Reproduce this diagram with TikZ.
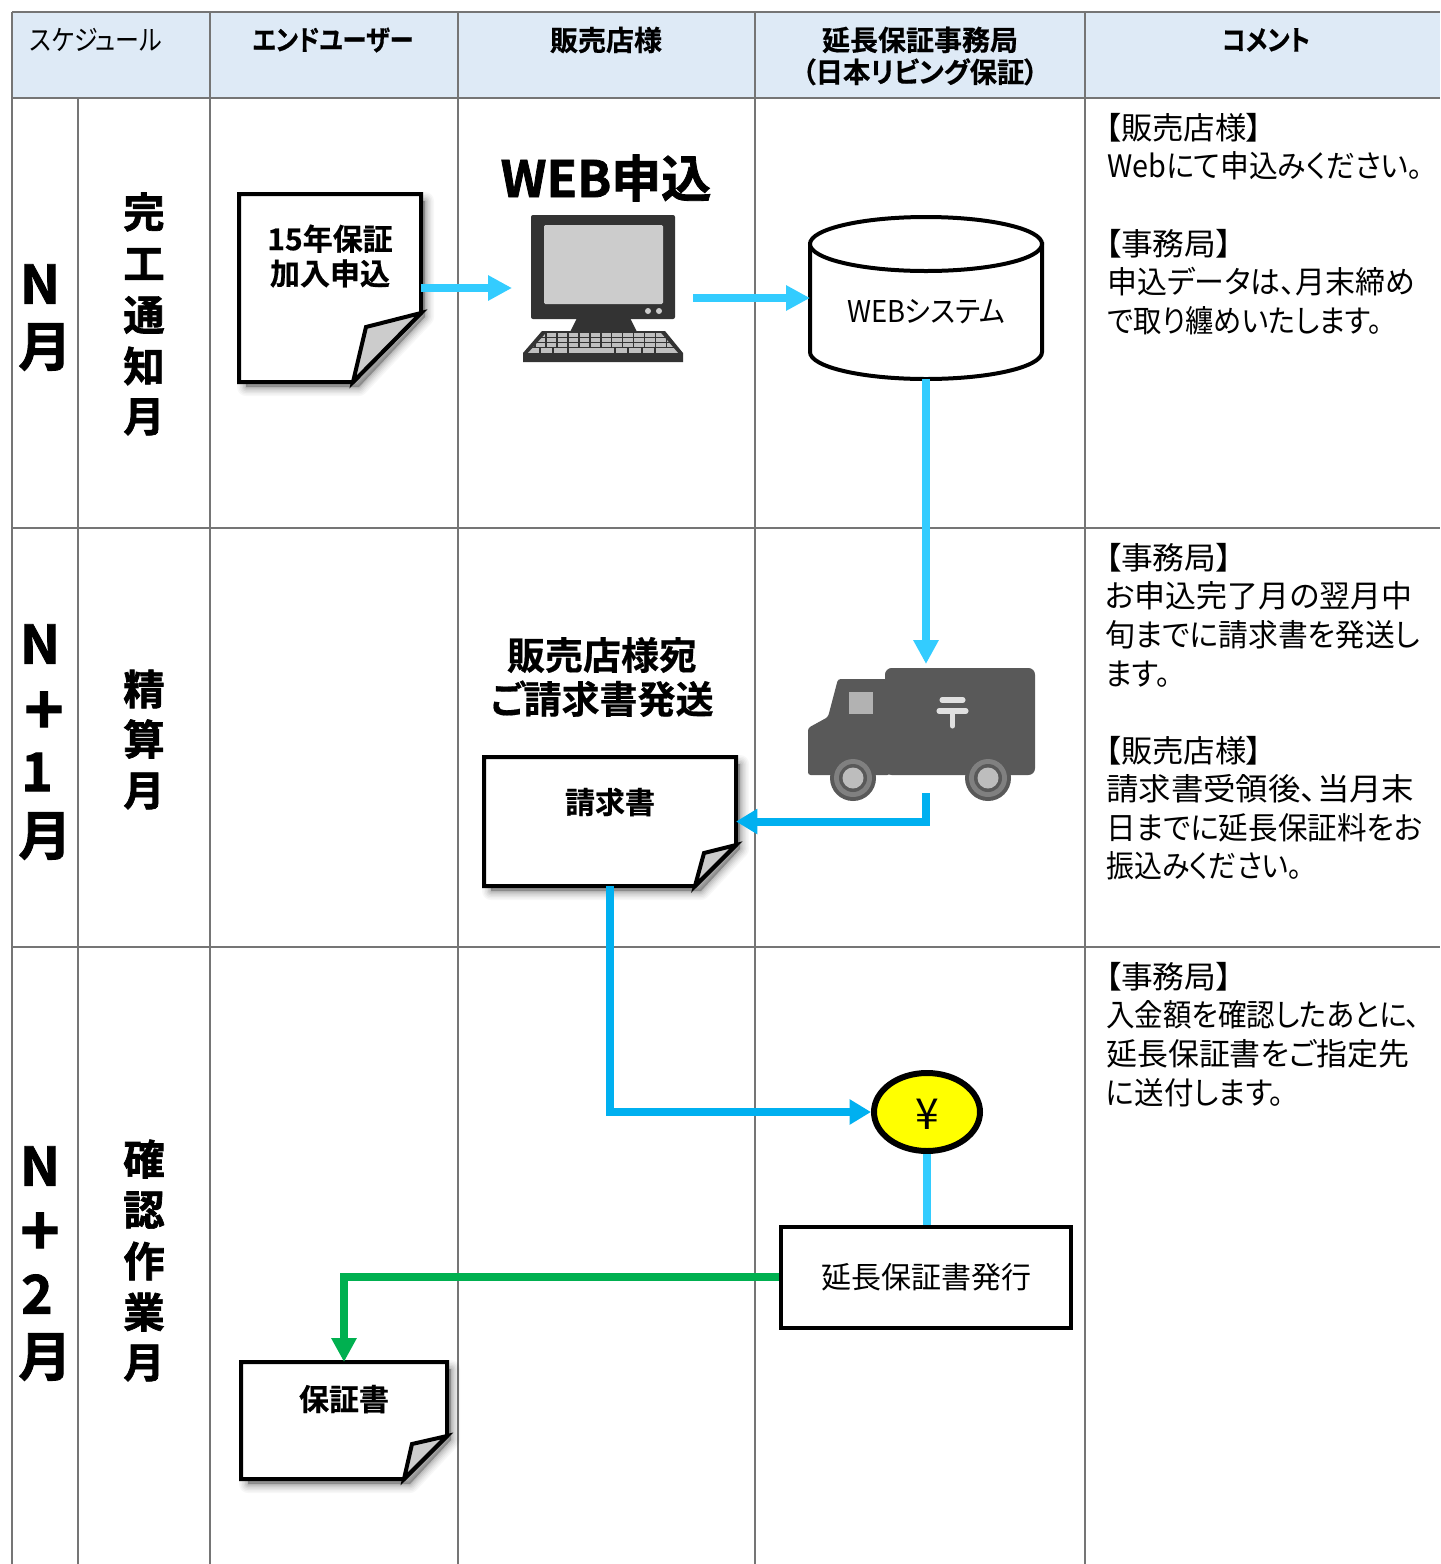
\documentclass[tikz,border=0pt]{standalone}
\usepackage{fontspec}
\usepackage{graphicx}
\setmainfont{Noto Sans CJK JP}[RawFeature=+palt,BoldFont={Noto Sans CJK JP Bold},BoldFeatures={FakeBold=0.5}]
\newfontfamily\heavyf{Noto Sans CJK JP Bold}[RawFeature=+palt,FakeBold=1.6]
\usetikzlibrary{arrows.meta,calc,shapes.geometric}
\definecolor{hdr}{HTML}{DEEAF6}
\definecolor{gridc}{HTML}{757575}
\definecolor{flow}{HTML}{33CCFF}
\definecolor{flowb}{HTML}{00B0F0}
\definecolor{flowg}{HTML}{00B050}
\definecolor{pcdark}{HTML}{333333}
\definecolor{truckc}{HTML}{595959}
\definecolor{yenfill}{HTML}{FFFF00}
\newcommand{\fl}[2]{\resizebox{\dimexpr#1pt*3/4\relax}{\height}{#2}}
\tikzset{
 gridline/.style={draw=gridc,line width=0.8pt},
 headcell/.style={fill=hdr,draw=none},
 t/.style={inner sep=0pt,align=center},
 headt/.style={t,font=\fontsize{21}{24}\selectfont\bfseries},
 monthbig/.style={t,font=\fontsize{40}{44}\selectfont\heavyf},
 monthtxt/.style={t,font=\fontsize{31}{34}\selectfont\heavyf},
 comment/.style={inner sep=0pt,anchor=north west,align=left,font=\fontsize{23.2}{28.9}\selectfont},
 doct/.style={t,font=\fontsize{22.5}{26}\selectfont\bfseries},
 bigt/.style={t,font=\fontsize{28.5}{33}\selectfont\bfseries},
 normt/.style={t,font=\fontsize{22.5}{26}\selectfont},
 area/.style={inner sep=0pt,outer sep=0pt,draw=none},
 docline/.style={draw=black,line join=miter,line width=3pt},
 conn/.style={draw=flow,line width=6pt,-{Triangle[length=18pt,width=18pt]}},
 connb/.style={draw=flowb,line width=6pt,line join=miter,-{Triangle[length=16pt,width=18pt]}},
 conng/.style={draw=flowg,line width=6pt,line join=miter,-{Triangle[length=18pt,width=18pt]}},
}
% name, x1, y1, x2, y2, fold start on right edge (y), fold bottom x, inner fold x,y
\newcommand{\docshape}[9]{%
 \node[area,minimum width={(#4-#2)*0.75pt},minimum height={(#5-#3)*0.75pt}] (#1) at ({(#2+#4)/2},{(#3+#5)/2}) {};
 \foreach \s/\o in {18/.03,15/.03,12/.04,9/.05,6/.06,3/.07}{
  \fill[black,opacity=\o,line join=round,line width=\s*0.75pt,draw=black]
    ({#2+7},{#3+7}) -- ({#4+4},{#3+7}) -- ({#4+4},{#6+4}) -- ({#7+6},{#5+5}) -- ({#2+7},{#5+5}) -- cycle;}
 \fill[white] (#2,#3) -- (#4,#3) -- (#4,#6) -- (#7,#5) -- (#2,#5) -- cycle;
 \draw[docline] (#2,#3) -- (#4,#3) -- (#4,#6) -- (#7,#5) -- (#2,#5) -- cycle;
 \draw[docline,fill=black!20,miter limit=4] (#7,#5) -- (#8,#9) -- (#4,#6) -- cycle;
}
\begin{document}
\begin{tikzpicture}[x=0.75pt,y=-0.75pt]
\useasboundingbox (0,0) rectangle (1440,1564);
\fill[white] (0,0) rectangle (1440,1564);
% header band and grid
\fill[headcell] (12,12) rectangle (1440,98);
\foreach \x in {210,458,755,1085}{\draw[gridline] (\x,12) -- (\x,1564);}
\draw[gridline] (12,12) -- (12,1564);
\draw[gridline] (78,98) -- (78,1564);
\foreach \y in {12,98,528,947}{\draw[gridline] (12,\y) -- (1440,\y);}
% headers
\node[t,font=\fontsize{21}{24}\selectfont] (hSched) at (96,40) {\fl{132}{スケジュール}};
\node[headt] (hUser) at (333,40) {\fl{161}{エンドユーザー}};
\node[headt] (hShop) at (606,40) {販売店様};
\node[headt] (hOffice) at (920,56) {延長保証事務局\\\fl{236}{（日本リビング保証）}};
\node[headt] (hComment) at (1266,40) {\fl{88}{コメント}};
% month column
\node[monthbig] (m1a) at (40,284) {N};
\node[monthbig] (m1b) at (45,347) {月};
\node[monthbig] (m2a) at (40,644) {N};
\node[monthbig,font=\fontsize{50}{54}\selectfont\heavyf] (m2b) at (44,713) {+};
\node[monthbig] (m2c) at (37,772) {1};
\node[monthbig] (m2d) at (45,836) {月};
\node[monthbig] (m3a) at (40,1166) {N};
\node[monthbig,font=\fontsize{50}{54}\selectfont\heavyf] (m3b) at (40,1234) {+};
\node[monthbig] (m3c) at (37,1294) {2};
\node[monthbig] (m3d) at (45,1357) {月};
% phase column
\foreach \n/\c/\y in {a/完/212,b/工/264,c/通/315,d/知/366,e/月/417,
 f/精/689,g/算/739,h/月/791,
 i/確/1159,j/認/1210,k/作/1261,l/業/1312,m/月/1363}{
 \node[monthtxt] (ph\n) at (144,\y) {\c};}
% comments
\node[comment] (c1) at (1105,113) {\fl{157}{【販売店様】}\\\hspace{1.5pt}\fl{315}{Webにて申込みください。}\\[28.9pt]\fl{127}{【事務局】}\\\hspace{1.5pt}\fl{308}{申込データは、月末締め}\\\hspace{1.5pt}\fl{275}{で取り纏めいたします。}};
\node[comment] (c2) at (1105,543) {\fl{127}{【事務局】}\\\fl{307}{お申込完了月の翌月中}\\\fl{315}{旬までに請求書を発送し}\\\fl{65}{ます。}\\[28.9pt]\fl{157}{【販売店様】}\\\hspace{0.75pt}\fl{308}{請求書受領後、当月末}\\\hspace{0.75pt}\fl{316}{日までに延長保証料をお}\\\hspace{0.75pt}\fl{196}{振込みください。}};
\node[comment] (c3) at (1105,962) {\fl{127}{【事務局】}\\\hspace{0.75pt}\fl{314}{入金額を確認したあとに、}\\\hspace{0.75pt}\fl{303}{延長保証書をご指定先}\\\hspace{0.75pt}\fl{178}{に送付します。}};
% documents
\docshape{doc1}{239}{194}{421}{382}{313}{353}{366}{327}
\docshape{doc2}{484}{757}{736}{886}{845}{695}{704}{853}
\docshape{doc3}{241}{1362}{447}{1479}{1436}{404}{412}{1444}
\node[doct] (doc1t) at (330,256) {15年保証\\加入申込};
\node[doct] (doc2t) at (610,802) {請求書};
\node[doct] (doc3t) at (344,1399) {保証書};
\node[bigt] (hTitle) at (602,677) {販売店様宛\\ご請求書発送};
% computer
\node[t,font=\fontsize{37.5}{40}\selectfont\heavyf] (webt) at (606,178) {WEB申込};
\node[area,minimum width=119.25pt,minimum height=110.25pt] (pc) at (602.5,288.5) {};
\fill[pcdark,rounded corners=1.5pt] (531,215) rectangle (675,319);
\fill[black!20,rounded corners=1pt] (544,225) rectangle (663,304);
\fill[black!20] (648,311) circle (3);
\fill[black!20] (659,311) circle (3);
\fill[pcdark] (577,318) -- (630,318) -- (637,332) -- (570,332) -- cycle;
\fill[pcdark] (542,331) -- (665,331) -- (683,353) -- (683,362) -- (523,362) -- (523,353) -- cycle;
\begin{scope}
\clip (546,333) -- (661,333) -- (678,353) -- (528,353) -- cycle;
\foreach \y in {335,340,345}{\draw[black!25,line width=2.6pt,dash pattern=on 7pt off 1.2pt] (525,\y) -- (685,\y);}
\draw[black!25,line width=3.4pt] (525,350.5) -- (685,350.5);
\draw[pcdark,line width=1pt] (540,347) -- (540,354) (553,347) -- (553,354) (568,347) -- (568,354) (615,347) -- (615,354) (628,347) -- (628,354) (642,347) -- (642,354) (655,347) -- (655,354);
\end{scope}
% WEB system cylinder
\node[area,minimum width=174pt,minimum height=121.5pt] (db) at (926,298) {};
\draw[docline,fill=white] (810,244) -- (810,352) arc[start angle=180,end angle=0,x radius=116,y radius=27] -- (1042,244) -- cycle;
\draw[docline,fill=white] (926,244) ellipse (116 and 27);
\node[normt] (dbt) at (926,312) {\fl{158}{WEBシステム}};
% truck
\node[area,minimum width=170.25pt,minimum height=99pt] (truck) at (921.5,734) {};
\fill[truckc,rounded corners=2pt] (808,728) -- (828,717) -- (838,679) -- (890,679) -- (890,775) -- (808,775) -- cycle;
\fill[truckc,rounded corners=5pt] (885,668) rectangle (1035,775);
\fill[black!30] (849,692) rectangle (873,714);
\draw[black!12,line width=3.8pt,line cap=round] (942,700) -- (963,700) (939,711) -- (966,711) (952.5,711) -- (952.5,726);
\foreach \wx in {853,988}{
 \fill[truckc] (\wx,778) circle (23);
 \fill[black!50] (\wx,778) circle (19);
 \fill[truckc] (\wx,778) circle (14);
 \fill[black!26] (\wx,778) circle (10.5);}
% yen and issue nodes
\node[ellipse,minimum width=79.5pt,minimum height=58.5pt,inner sep=0pt,draw=black,fill=yenfill,line width=4.5pt] (yen) at (927,1112) {};
\node[t,font=\fontsize{32}{34}\selectfont] (yent) at (927,1114) {¥};
\node[rectangle,draw=black,fill=white,line width=3pt,minimum width=217.5pt,minimum height=75.75pt,inner sep=0pt,font=\fontsize{22.5}{26}\selectfont] (issue) at (926,1277) {延長保証書発行};
% connectors
\draw[conn] (doc1.east) -- ([xshift=-8.25pt]doc1.east -| pc.west);
\draw[conn] ($(pc.east |- db.west)+(11,0)$) -- (db.west);
\draw[conn] (db.south) -- ([yshift=3pt]db.south |- truck.north);
\coordinate (truckOut) at ($(db.south |- truck.south)+(0,-7)$);
\draw[connb] (truckOut) |- (doc2.east);
\draw[connb] (doc2.south) |- (yen.west);
\draw[flow,line width=6pt] (yen.south) -- (yen.south |- issue.north);
\draw[conng] (issue.west) -| (doc3.north);
\end{tikzpicture}
\end{document}
